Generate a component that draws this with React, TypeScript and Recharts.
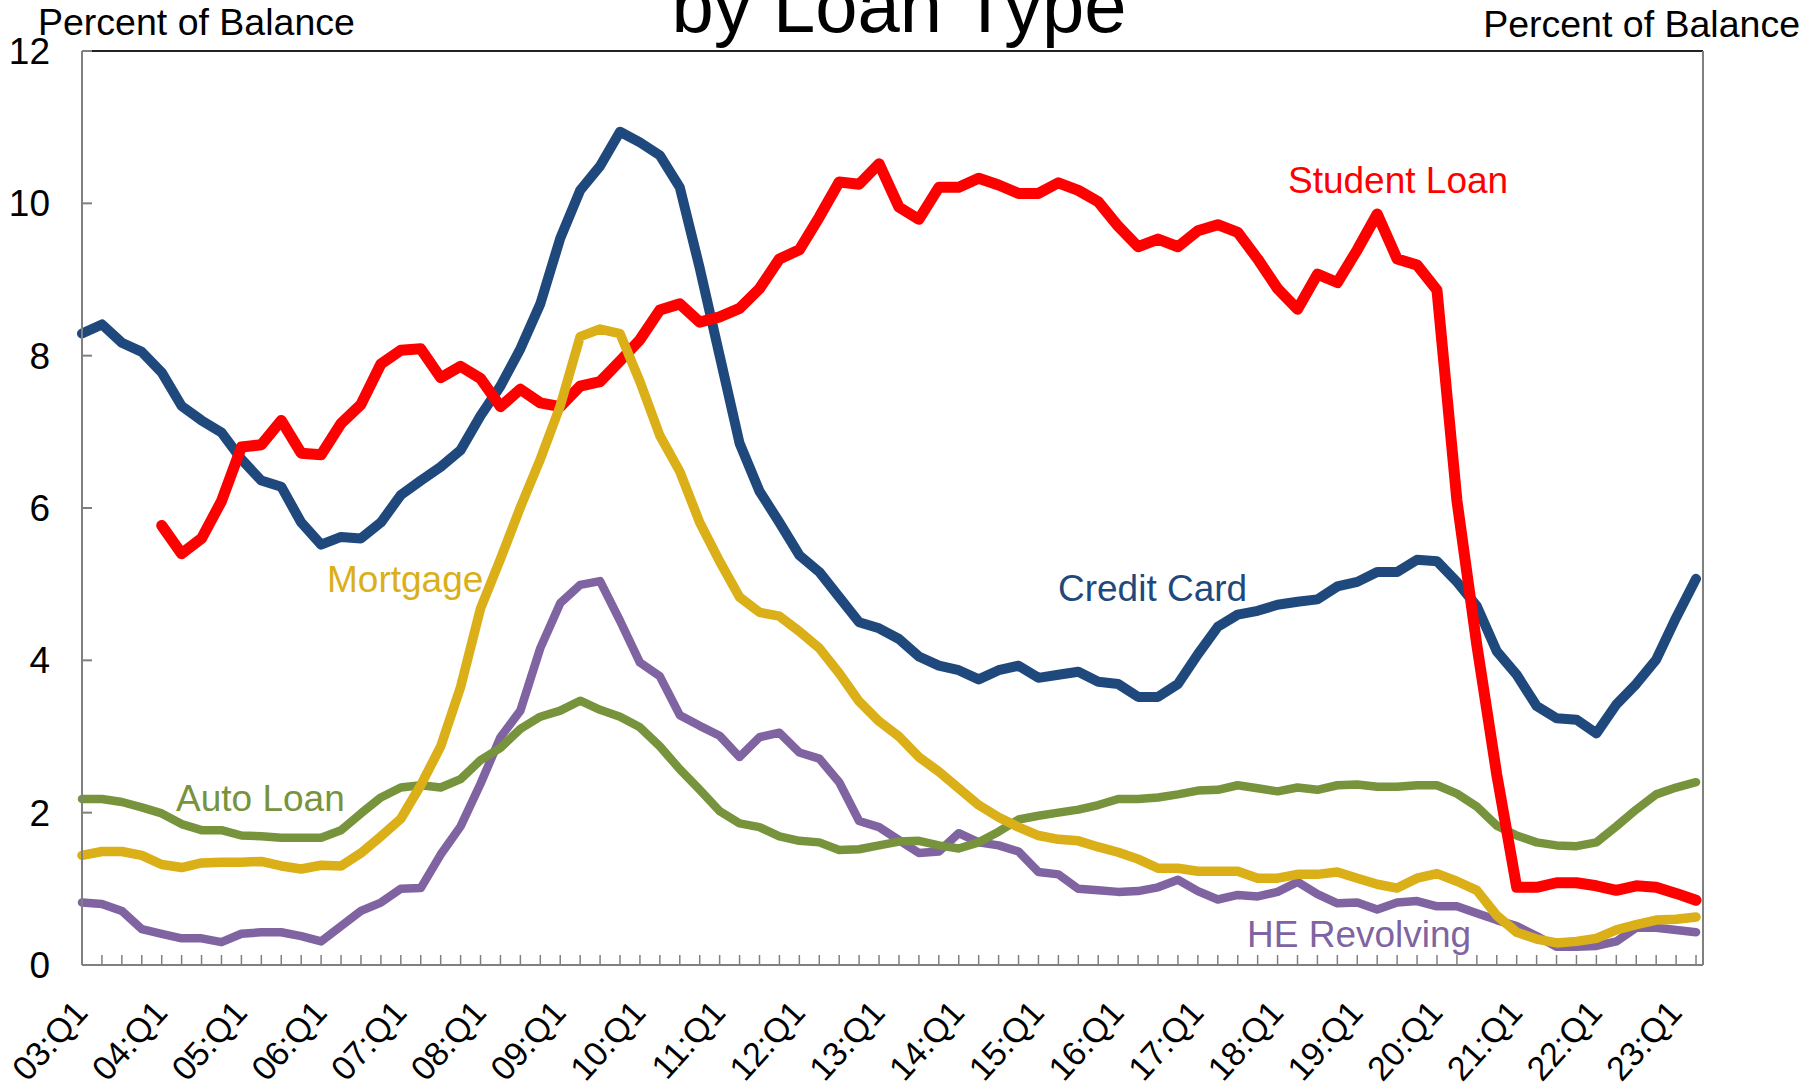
import { LineChart, Line, XAxis, YAxis, ReferenceLine } from "recharts"

// quarterly data, 03:Q1 .. 23:Q2 (percent of balance 90+ days delinquent)
const yearLabels = [
  "03:Q1", "04:Q1", "05:Q1", "06:Q1", "07:Q1", "08:Q1", "09:Q1", "10:Q1", "11:Q1", "12:Q1", "13:Q1",
  "14:Q1", "15:Q1", "16:Q1", "17:Q1", "18:Q1", "19:Q1", "20:Q1", "21:Q1", "22:Q1", "23:Q1",
]

const creditCard = [
  8.29, 8.41, 8.17, 8.05, 7.78, 7.34, 7.15, 6.99, 6.64, 6.36, 6.28, 5.81, 5.52, 5.62, 5.6, 5.81,
  6.17, 6.36, 6.54, 6.76, 7.21, 7.6, 8.09, 8.68, 9.54, 10.17, 10.49, 10.94, 10.8, 10.63, 10.21, 9.15,
  8.0, 6.85, 6.22, 5.81, 5.38, 5.16, 4.83, 4.5, 4.42, 4.28, 4.05, 3.93, 3.87, 3.75, 3.87, 3.93,
  3.77, 3.81, 3.85, 3.72, 3.69, 3.52, 3.52, 3.69, 4.08, 4.44, 4.6, 4.65, 4.73, 4.77, 4.8, 4.97,
  5.03, 5.16, 5.16, 5.32, 5.3, 5.03, 4.71, 4.12, 3.81, 3.4, 3.24, 3.22, 3.04, 3.42, 3.69, 4.01,
  4.56, 5.07,
]

const studentLoan = [
  null, null, null, null, 5.77, 5.4, 5.6, 6.09, 6.8, 6.83, 7.15, 6.72, 6.7, 7.11, 7.36, 7.89,
  8.07, 8.09, 7.71, 7.86, 7.7, 7.33, 7.56, 7.38, 7.33, 7.6, 7.66, 7.93, 8.21, 8.6, 8.68, 8.44,
  8.51, 8.62, 8.88, 9.27, 9.39, 9.82, 10.28, 10.25, 10.52, 9.95, 9.79, 10.21, 10.21, 10.33, 10.24, 10.13,
  10.13, 10.27, 10.17, 10.02, 9.7, 9.43, 9.53, 9.43, 9.64, 9.72, 9.62, 9.27, 8.88, 8.61, 9.07, 8.96,
  9.39, 9.86, 9.27, 9.19, 8.86, 6.1, 4.2, 2.5, 1.02, 1.02, 1.08, 1.08, 1.04, 0.98, 1.04, 1.02,
  0.94, 0.85,
]

const mortgage = [
  1.44, 1.49, 1.49, 1.44, 1.32, 1.28, 1.34, 1.35, 1.35, 1.36, 1.3, 1.26, 1.31, 1.3, 1.47, 1.69,
  1.92, 2.36, 2.87, 3.65, 4.68, 5.33, 6.01, 6.64, 7.34, 8.25, 8.35, 8.29, 7.66, 6.95, 6.48, 5.81,
  5.3, 4.83, 4.63, 4.58, 4.38, 4.16, 3.83, 3.46, 3.2, 3.0, 2.73, 2.54, 2.32, 2.1, 1.94, 1.81,
  1.7, 1.65, 1.63, 1.55, 1.48, 1.39, 1.27, 1.27, 1.23, 1.23, 1.23, 1.14, 1.14, 1.19, 1.19, 1.22,
  1.14, 1.06, 1.01, 1.14, 1.2, 1.1, 0.98, 0.65, 0.43, 0.34, 0.29, 0.31, 0.35, 0.46, 0.53, 0.59,
  0.6, 0.63,
]

const autoLoan = [
  2.18, 2.18, 2.14, 2.07, 1.99, 1.85, 1.77, 1.77, 1.7, 1.69, 1.67, 1.67, 1.67, 1.77, 1.99, 2.2,
  2.33, 2.36, 2.33, 2.44, 2.69, 2.85, 3.1, 3.26, 3.34, 3.47, 3.35, 3.26, 3.12, 2.87, 2.57, 2.3,
  2.02, 1.86, 1.81, 1.69, 1.63, 1.61, 1.51, 1.52, 1.57, 1.62, 1.63, 1.57, 1.53, 1.61, 1.75, 1.91,
  1.96, 2.0, 2.04, 2.1, 2.18, 2.18, 2.2, 2.24, 2.29, 2.3, 2.36, 2.32, 2.28, 2.33, 2.3, 2.36,
  2.37, 2.34, 2.34, 2.36, 2.36, 2.25, 2.08, 1.83, 1.7, 1.61, 1.57, 1.56, 1.61, 1.82, 2.04, 2.24,
  2.33, 2.4,
]

const heRevolving = [
  0.82, 0.8, 0.71, 0.47, 0.41, 0.35, 0.35, 0.3, 0.41, 0.43, 0.43, 0.38, 0.31, 0.51, 0.71, 0.82,
  1.0, 1.01, 1.45, 1.82, 2.38, 2.99, 3.34, 4.16, 4.75, 4.99, 5.04, 4.52, 3.97, 3.79, 3.28, 3.14,
  3.01, 2.73, 2.99, 3.05, 2.79, 2.71, 2.4, 1.89, 1.81, 1.64, 1.47, 1.49, 1.73, 1.61, 1.57, 1.49,
  1.22, 1.19, 1.0, 0.98, 0.96, 0.97, 1.02, 1.12, 0.97, 0.86, 0.92, 0.9, 0.96, 1.09, 0.93, 0.81,
  0.82, 0.73, 0.82, 0.84, 0.77, 0.77, 0.68, 0.59, 0.51, 0.38, 0.24, 0.24, 0.25, 0.31, 0.49, 0.49,
  0.46, 0.43,
]

const yTicks = [0, 2, 4, 6, 8, 10, 12]

const data = creditCard.map((v, i) => ({
  idx: i,
  quarter: i % 4 === 0 ? yearLabels[i / 4] : "",
  creditCard: v,
  studentLoan: studentLoan[i],
  mortgage: mortgage[i],
  autoLoan: autoLoan[i],
  heRevolving: heRevolving[i],
}))
const xTicks = data.map((d) => d.idx)

const W = 1819
const H = 1091
const LEFT = 82
const RIGHT = 1703
const TOP = 51
const BOTTOM = 965
const FONT = "Arial, 'Liberation Sans', sans-serif"
const AXIS = "#808080"

const XTick = (props: any) => {
  const { x, payload } = props
  const label = data[payload.value] ? data[payload.value].quarter : ""
  const px = x + 7.5
  const py = BOTTOM + 49
  return (
    <g>
      <line x1={x} x2={x} y1={BOTTOM} y2={BOTTOM - 10} stroke={AXIS} strokeWidth={1.5} />
      {label && (
        <text
          x={px}
          y={py}
          textAnchor="end"
          fontSize={34}
          fontFamily={FONT}
          fill="#000"
          transform={`rotate(-48, ${px}, ${py})`}
        >
          {label}
        </text>
      )}
    </g>
  )
}

const LeftTick = (props: any) => {
  const { y, payload } = props
  return (
    <g>
      <line x1={LEFT} x2={LEFT + 10} y1={y} y2={y} stroke={AXIS} strokeWidth={2} />
      <text x={LEFT - 32} y={y + 13} textAnchor="end" fontSize={37} fontFamily={FONT} fill="#000">
        {payload.value}
      </text>
    </g>
  )
}

const RightTick = (props: any) => {
  const { y, payload } = props
  return (
    <g>
      <line x1={RIGHT} x2={RIGHT - 10} y1={y} y2={y} stroke={AXIS} strokeWidth={2} />
      <text x={RIGHT + 33} y={y + 13} textAnchor="start" fontSize={37} fontFamily={FONT} fill="#000">
        {payload.value}
      </text>
    </g>
  )
}

const lineProps = {
  type: "linear" as const,
  dot: false,
  activeDot: false,
  isAnimationActive: false,
  strokeLinejoin: "round" as const,
  strokeLinecap: "round" as const,
  yAxisId: "left",
}

export default function App() {
  return (
    <div style={{ position: "absolute", left: 0, top: 0, width: W, height: H, background: "#fff" }}>
      <LineChart
        width={W}
        height={H}
        data={data}
        margin={{ top: TOP, right: 0, bottom: 0, left: 0 }}
      >
        <XAxis
          dataKey="idx"
          type="number"
          domain={[0, 81.35]}
          ticks={xTicks}
          interval={0}
          tick={<XTick />}
          tickLine={false}
          tickSize={0}
          tickMargin={0}
          height={H - BOTTOM}
          axisLine={{ stroke: AXIS, strokeWidth: 2 }}
        />
        <YAxis
          yAxisId="left"
          orientation="left"
          width={LEFT}
          domain={[0, 12]}
          ticks={yTicks}
          interval={0}
          tick={<LeftTick />}
          tickLine={false}
          tickSize={0}
          tickMargin={0}
          axisLine={{ stroke: AXIS, strokeWidth: 2 }}
        />
        <YAxis
          yAxisId="right"
          orientation="right"
          width={W - RIGHT}
          domain={[0, 12]}
          ticks={yTicks}
          interval={0}
          tick={<RightTick />}
          tickLine={false}
          tickSize={0}
          tickMargin={0}
          axisLine={{ stroke: AXIS, strokeWidth: 2 }}
        />
        <ReferenceLine yAxisId="left" y={12} stroke="#222" strokeWidth={2} />
        <Line {...lineProps} dataKey="heRevolving" stroke="#8064A2" strokeWidth={8.5} />
        <Line {...lineProps} dataKey="autoLoan" stroke="#77933C" strokeWidth={8.5} />
        <Line {...lineProps} dataKey="creditCard" stroke="#1F497D" strokeWidth={10} />
        <Line {...lineProps} dataKey="studentLoan" stroke="#FF0000" strokeWidth={11} />
        <Line {...lineProps} dataKey="mortgage" stroke="#DAAF17" strokeWidth={9.5} />
      </LineChart>
      <svg
        width={W}
        height={H}
        style={{ position: "absolute", left: 0, top: 0, pointerEvents: "none" }}
        fontFamily={FONT}
      >
        <text x={899} y={32} textAnchor="middle" fontSize={76} fill="#000">
          by Loan Type
        </text>
        <text x={38} y={35} fontSize={37.5} fill="#000">
          Percent of Balance
        </text>
        <text x={1800} y={37} textAnchor="end" fontSize={37.5} fill="#000">
          Percent of Balance
        </text>
        <text x={1288} y={193} fontSize={37} fill="#FF0000">
          Student Loan
        </text>
        <text x={1058} y={601} fontSize={37} fill="#1F497D">
          Credit Card
        </text>
        <text x={327} y={592} fontSize={37} fill="#DAAF17">
          Mortgage
        </text>
        <text x={176} y={811} fontSize={37} fill="#77933C">
          Auto Loan
        </text>
        <text x={1247} y={947} fontSize={37} fill="#8064A2">
          HE Revolving
        </text>
      </svg>
    </div>
  )
}
